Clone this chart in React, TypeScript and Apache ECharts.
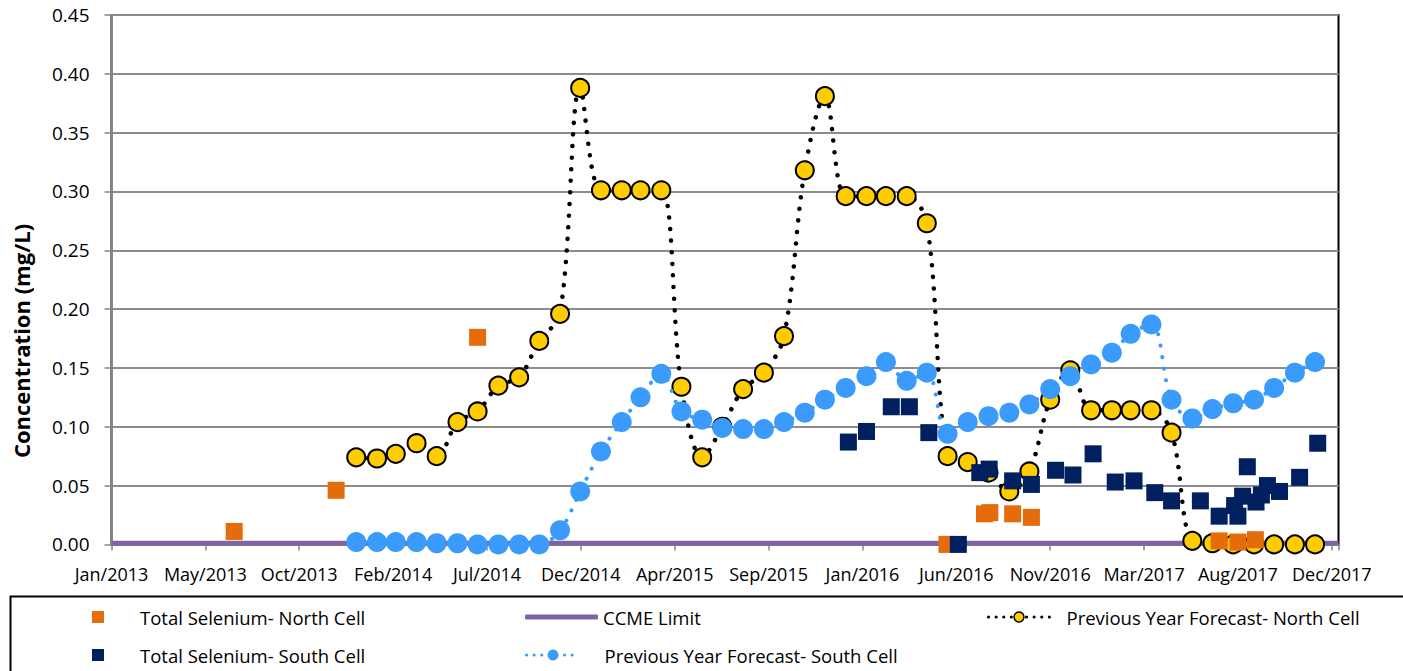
import React, { useEffect, useRef } from 'react';
import * as echarts from 'echarts';

const FONT = '"Open Sans", sans-serif';

// ---- axis ticks ----
const xTickLabels = ['Jan/2013', 'May/2013', 'Oct/2013', 'Feb/2014', 'Jul/2014', 'Dec/2014', 'Apr/2015', 'Sep/2015', 'Jan/2016', 'Jun/2016', 'Nov/2016', 'Mar/2017', 'Aug/2017', 'Dec/2017'];
const xTickStepDays = 140;
const xMaxDays = 1830;
const axisStartDate = '2013-01-01';
const yMin = 0;
const yMax = 0.45;
const yStep = 0.05;

// ---- forecast series (monthly) ----
const forecastMonths = [
  '2014-01-01', '2014-02-01', '2014-03-01', '2014-04-01', '2014-05-01', '2014-06-01', '2014-07-01', '2014-08-01', '2014-09-01', '2014-10-01', '2014-11-01', '2014-12-01',
  '2015-01-01', '2015-02-01', '2015-03-01', '2015-04-01', '2015-05-01', '2015-06-01', '2015-07-01', '2015-08-01', '2015-09-01', '2015-10-01', '2015-11-01', '2015-12-01',
  '2016-01-01', '2016-02-01', '2016-03-01', '2016-04-01', '2016-05-01', '2016-06-01', '2016-07-01', '2016-08-01', '2016-09-01', '2016-10-01', '2016-11-01', '2016-12-01',
  '2017-01-01', '2017-02-01', '2017-03-01', '2017-04-01', '2017-05-01', '2017-06-01', '2017-07-01', '2017-08-01', '2017-09-01', '2017-10-01', '2017-11-01', '2017-12-01',
];
const northForecast = [
  0.074, 0.073, 0.077, 0.086, 0.075, 0.104, 0.113, 0.135, 0.142, 0.173, 0.196, 0.388,
  0.301, 0.301, 0.301, 0.301, 0.134, 0.074, 0.100, 0.132, 0.146, 0.177, 0.318, 0.381,
  0.296, 0.296, 0.296, 0.296, 0.273, 0.075, 0.070, 0.061, 0.045, 0.062, 0.123, 0.148,
  0.114, 0.114, 0.114, 0.114, 0.095, 0.003, 0.001, 0.000, 0.000, 0.000, 0.000, 0.000,
];
const southForecast = [
  0.002, 0.002, 0.002, 0.002, 0.001, 0.001, 0.000, 0.000, 0.000, 0.000, 0.012, 0.045,
  0.079, 0.104, 0.125, 0.145, 0.113, 0.106, 0.099, 0.098, 0.098, 0.104, 0.112, 0.123,
  0.133, 0.143, 0.155, 0.139, 0.146, 0.094, 0.104, 0.109, 0.112, 0.119, 0.132, 0.143,
  0.153, 0.163, 0.179, 0.187, 0.123, 0.107, 0.115, 0.120, 0.123, 0.133, 0.146, 0.155,
];

// ---- measured series ----
const northMeasuredDates = ['2013-07-03', '2013-12-02', '2014-07-01', '2016-05-31', '2016-07-26', '2016-08-03', '2016-09-06', '2016-10-04', '2017-07-11', '2017-08-08', '2017-09-03'];
const northMeasured = [0.011, 0.046, 0.176, 0.000, 0.026, 0.027, 0.026, 0.023, 0.003, 0.002, 0.004];

const southMeasuredDates = [
  '2016-01-05', '2016-02-01', '2016-03-09', '2016-04-05', '2016-05-04', '2016-06-17', '2016-07-19', '2016-08-02', '2016-09-06', '2016-10-04',
  '2016-11-09', '2016-12-05', '2017-01-04', '2017-02-06', '2017-03-06', '2017-04-06', '2017-05-01', '2017-06-13', '2017-07-11', '2017-08-03',
  '2017-08-08', '2017-08-15', '2017-08-22', '2017-09-04', '2017-09-12', '2017-09-21', '2017-10-09', '2017-11-08', '2017-12-05',
];
const southMeasured = [
  0.087, 0.096, 0.117, 0.117, 0.095, 0.000, 0.061, 0.064, 0.054, 0.051,
  0.063, 0.059, 0.077, 0.053, 0.054, 0.044, 0.037, 0.037, 0.024, 0.033,
  0.024, 0.041, 0.066, 0.036, 0.042, 0.050, 0.045, 0.057, 0.086,
];

const ccmeLimit = 0.001;

const SERIES_NAMES = {
  north: 'Total Selenium- North Cell',
  south: 'Total Selenium- South Cell',
  ccme: 'CCME Limit',
  northF: 'Previous Year Forecast- North Cell',
  southF: 'Previous Year Forecast- South Cell',
};

function toDays(s: string): number {
  const p = (t: string) => t.split('-').map(Number);
  const [y, m, d] = p(s);
  const [y0, m0, d0] = p(axisStartDate);
  return Math.round((Date.UTC(y, m - 1, d) - Date.UTC(y0, m0 - 1, d0)) / 86400000);
}

const pairs = (dates: string[], vals: number[]) => dates.map((d, i) => [toDays(d), vals[i]]);

export default function App() {
  const ref = useRef<HTMLDivElement>(null);

  useEffect(() => {
    document.body.style.margin = '0';
    if (!ref.current) return;
    const chart = echarts.init(ref.current, null, { renderer: 'svg' });

    const legendText = { fontFamily: FONT, fontSize: 18.5, color: '#000' };
    const row1 = 607.5;
    const row2 = 645.5;

    const option: any = {
      animation: false,
      textStyle: { fontFamily: FONT },
      grid: {
        left: 111.5,
        right: 64.5,
        top: 15,
        bottom: 126.6,
        show: true,
        borderColor: '#000',
        borderWidth: 2,
        outerBoundsMode: 'none',
      },
      xAxis: {
        type: 'value',
        min: 0,
        max: xMaxDays,
        interval: xTickStepDays,
        splitLine: { show: false },
        axisLine: { show: true, lineStyle: { color: '#868686', width: 2 } },
        axisTick: { show: true, length: 6, lineStyle: { color: '#868686', width: 1.5 } },
        axisLabel: {
          fontFamily: FONT,
          fontSize: 18,
          color: '#000',
          margin: 21,
          formatter: (v: number) => {
            const idx = Math.round(v / xTickStepDays);
            if (Math.abs(v - idx * xTickStepDays) > 1e-6) return '';
            return xTickLabels[idx] ?? '';
          },
        },
      },
      yAxis: {
        type: 'value',
        min: yMin,
        max: yMax,
        interval: yStep,
        axisLine: { show: true, lineStyle: { color: '#868686', width: 2 } },
        axisTick: { show: true, length: 7, lineStyle: { color: '#868686', width: 1.5 } },
        splitLine: { show: true, lineStyle: { color: '#8c8c8c', width: 1.8 } },
        axisLabel: {
          fontFamily: FONT,
          fontSize: 19,
          color: '#000',
          margin: 22,
          formatter: (v: number) => v.toFixed(2),
        },
      },
      legend: [
        {
          data: [SERIES_NAMES.north], left: 92, top: row1, itemWidth: 12, itemHeight: 12, padding: 0,
          selectedMode: false, textStyle: { ...legendText, padding: [0, 0, 0, 31] },
        },
        {
          data: [SERIES_NAMES.south], left: 92, top: row2, itemWidth: 12, itemHeight: 12, padding: 0,
          selectedMode: false, textStyle: { ...legendText, padding: [0, 0, 0, 31] },
        },
        {
          data: [{ name: SERIES_NAMES.ccme, icon: 'roundRect' }], left: 525, top: row1, itemWidth: 73, itemHeight: 5, padding: 0,
          selectedMode: false, itemStyle: { color: '#8064A2' }, textStyle: { ...legendText },
        },
        {
          data: [SERIES_NAMES.northF], left: 987, top: row1, itemWidth: 61, itemHeight: 12.5, padding: 0,
          selectedMode: false, lineStyle: { width: 3, type: [0.1, 7.5], cap: 'round', color: '#000' },
          itemStyle: { borderWidth: 1.5 },
          textStyle: { ...legendText, padding: [0, 0, 0, 12] },
        },
        {
          data: [SERIES_NAMES.southF], left: 525, top: row2, itemWidth: 53, itemHeight: 13.5, padding: 0,
          selectedMode: false, lineStyle: { width: 3, type: [0.1, 7.5], cap: 'round' },
          textStyle: { ...legendText, padding: [0, 0, 0, 20] },
        },
      ],
      graphic: [
        {
          type: 'rect',
          silent: true,
          shape: { x: 10.5, y: 596.5, width: 1420, height: 120 },
          style: { fill: 'none', stroke: '#000', lineWidth: 2 },
        },
        {
          type: 'text',
          silent: true,
          x: 21,
          y: 341,
          rotation: Math.PI / 2,
          style: {
            text: 'Concentration (mg/L)',
            fontFamily: FONT,
            fontSize: 22,
            fontWeight: 'bold',
            fill: '#000',
            align: 'center',
            verticalAlign: 'middle',
          },
        },
      ],
      series: [
        {
          name: SERIES_NAMES.ccme,
          type: 'line',
          z: 1,
          showSymbol: false,
          symbol: 'none',
          data: [[0, ccmeLimit], [xMaxDays, ccmeLimit]],
          lineStyle: { color: '#8064A2', width: 5 },
          itemStyle: { color: '#8064A2' },
        },
        {
          name: SERIES_NAMES.northF,
          type: 'line',
          z: 2,
          smooth: 0.35,
          symbol: 'circle',
          symbolSize: 18,
          data: pairs(forecastMonths, northForecast),
          lineStyle: { color: '#000', width: 4.5, type: [0.1, 11.5], cap: 'round' },
          itemStyle: { color: '#FFCC00', borderColor: '#000', borderWidth: 2 },
        },
        {
          name: SERIES_NAMES.southF,
          type: 'line',
          z: 3,
          smooth: 0.35,
          symbol: 'circle',
          symbolSize: 20,
          data: pairs(forecastMonths, southForecast),
          lineStyle: { color: '#3A9BFC', width: 4, type: [0.1, 11.5], cap: 'round' },
          itemStyle: { color: '#3A9BFC' },
        },
        {
          name: SERIES_NAMES.north,
          type: 'scatter',
          z: 4,
          symbol: 'rect',
          symbolSize: 17,
          data: pairs(northMeasuredDates, northMeasured),
          itemStyle: { color: '#E46C0A', opacity: 1 },
        },
        {
          name: SERIES_NAMES.south,
          type: 'scatter',
          z: 5,
          symbol: 'rect',
          symbolSize: 17,
          data: pairs(southMeasuredDates, southMeasured),
          itemStyle: { color: '#002060', opacity: 1 },
        },
      ],
    };

    chart.setOption(option);
    return () => chart.dispose();
  }, []);

  return <div ref={ref} style={{ width: 1403, height: 671 }} />;
}
